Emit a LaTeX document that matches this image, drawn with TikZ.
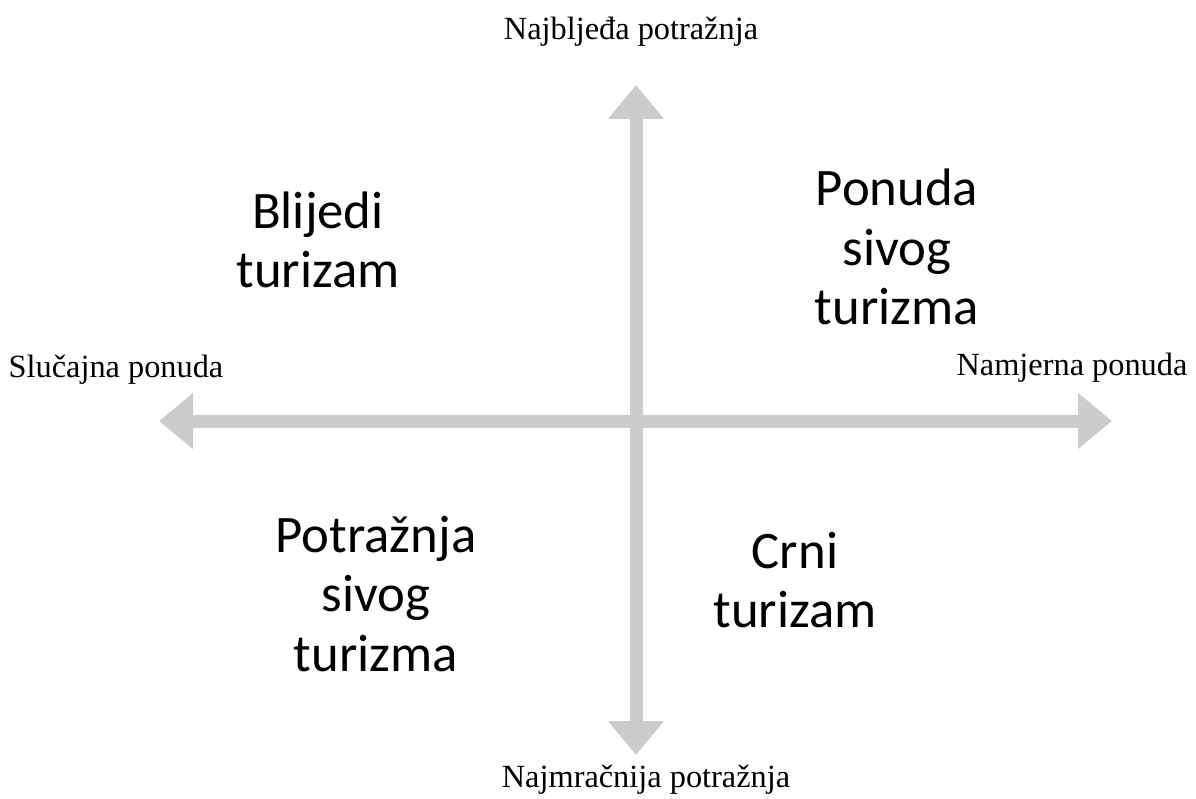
\documentclass[tikz,border=0pt]{standalone}
\usepackage{fontspec}
\setmainfont{Liberation Serif}
\newfontfamily\quadfont{Carlito}
\usetikzlibrary{arrows.meta}
\definecolor{axisgray}{RGB}{204,204,204}
\tikzset{
  axis/.style={draw=axisgray, line width=9.25pt,
    -{Triangle[length=0.85cm, width=1.35cm]}},
  axislabel/.style={anchor=base, inner sep=0pt, font=\fontsize{23}{27}\selectfont},
  quadrant/.style={align=center, inner sep=0pt,
    font=\quadfont\fontsize{37.5}{42.3}\selectfont}
}

\begin{document}
\begin{tikzpicture}[x=0.025cm, y=-0.025cm]
        \useasboundingbox (0,0) rectangle (1196,798);
        \coordinate (mid)    at (636, 421);
        \coordinate (left)   at (159, 421);
        \coordinate (right)  at (1112, 421);
        \coordinate (top)    at (636, 85);
        \coordinate (bottom) at (636, 755);
        \draw[axis] (mid) -- (left);
        \draw[axis] (mid) -- (right);
        \draw[axis] (mid) -- (top);
        \draw[axis] (mid) -- (bottom);
        %% axis ends
        \node[axislabel] (palest)  at (631, 39)  {Najblje\dj a potražnja};
        \node[axislabel] (darkest) at (646, 787) {Najmračnija potražnja};
        \node[axislabel] (random)  at (116, 377) {Slučajna ponuda};
        \node[axislabel] (planned) at (1072, 375) {Namjerna ponuda};
        %% quadrants
        \node[quadrant] (pale)    at (318, 240) {Blijedi\\turizam};
        \node[quadrant] (supply)  at (897, 247) {Ponuda\\sivog\\turizma};
        \node[quadrant] (demand)  at (376, 594) {Potražnja\\sivog\\turizma};
        \node[quadrant] (black)   at (795, 580) {Crni\\turizam};
      \end{tikzpicture}
\end{document}
